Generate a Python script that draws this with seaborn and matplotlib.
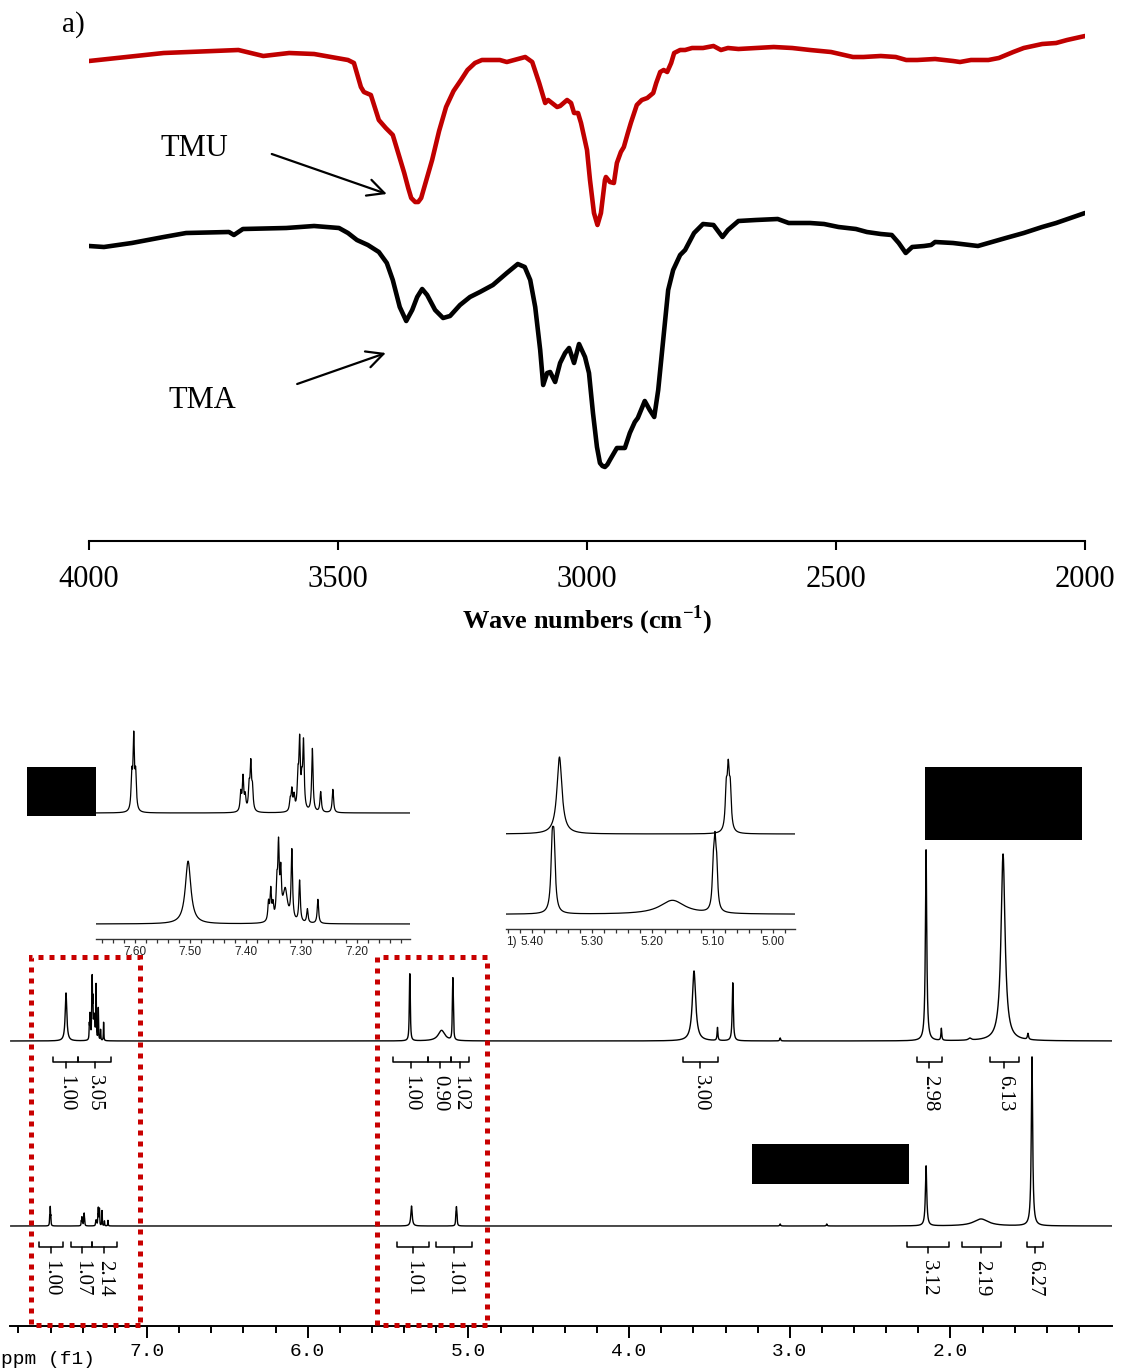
import numpy as np
import matplotlib
matplotlib.use("Agg")
import matplotlib.pyplot as plt
from matplotlib.patches import Rectangle
from matplotlib.ticker import MultipleLocator, FormatStrFormatter, FixedLocator
import seaborn as sns

# ---------------------------------------------------------------- FTIR spectra
ir_wn_tmu = [4000, 3850, 3700, 3650, 3598, 3548, 3480, 3468, 3454, 3448, 3434, 3418, 3404, 3390,
             3367, 3359, 3353, 3345, 3339, 3333, 3311, 3297, 3283, 3268, 3253, 3240, 3225, 3211,
             3175, 3161, 3124, 3110, 3096,
             3084, 3078, 3060, 3054, 3040, 3032, 3026, 3018, 3012, 3000, 2994, 2986, 2979, 2972,
             2964, 2962, 2954, 2946, 2940, 2932, 2926, 2918, 2912, 2900, 2890, 2879, 2867, 2861,
             2853, 2846, 2839, 2831, 2825, 2813, 2803, 2789, 2767, 2746, 2731, 2717, 2696, 2625,
             2588, 2552, 2510, 2466, 2445, 2410, 2380, 2359, 2337, 2301, 2265, 2251, 2229, 2194,
             2173, 2144, 2123, 2086, 2058, 2036, 2000]
ir_t_tmu = [96.0, 97.6, 98.2, 97.0, 97.6, 97.4, 96.2, 95.6, 90.8, 89.8, 89.2, 84.2, 82.6, 81.2,
            73.6, 70.6, 68.6, 67.8, 67.8, 68.6, 76.2, 82.0, 86.8, 90.0, 92.2, 94.2, 95.6, 96.2,
            96.2, 95.8, 96.8, 95.8, 91.6,
            87.6, 88.2, 86.8, 87.0, 88.2, 87.6, 85.6, 85.6, 83.6, 78.2, 72.2, 65.6, 63.2, 65.6,
            72.2, 72.8, 71.8, 71.6, 75.6, 77.8, 78.8, 81.6, 83.6, 87.2, 88.2, 88.6, 89.6, 91.6,
            93.8, 94.2, 93.8, 95.6, 97.6, 98.2, 98.2, 98.6, 98.6, 99.0, 98.2, 98.6, 98.4, 98.8,
            98.6, 98.2, 97.8, 96.8, 96.8, 97.0, 96.8, 96.2, 96.2, 96.4, 96.0, 95.8, 96.2, 96.2,
            96.6, 97.8, 98.6, 99.4, 99.6, 100.2, 101.0]

ir_wn_tma = [4000, 3970, 3914, 3850, 3805, 3719, 3709, 3691, 3604, 3548, 3498, 3480, 3462, 3440,
             3418, 3402,
             3390, 3376, 3363, 3351, 3341, 3331, 3321, 3305, 3289, 3275, 3255, 3235, 3215, 3189,
             3161, 3139, 3125, 3114, 3104, 3094, 3088, 3080, 3074, 3064, 3054, 3044, 3036, 3026,
             3016, 3004, 2996, 2988, 2980, 2974, 2969, 2964, 2959, 2954, 2940, 2924, 2914, 2904,
             2898, 2884,
             2874, 2865, 2857, 2847, 2837, 2827, 2813, 2803, 2785, 2767, 2746, 2728, 2717, 2696,
             2661, 2617, 2595, 2552, 2524, 2495, 2460, 2438, 2410, 2388, 2374, 2360, 2347, 2323,
             2309, 2301, 2265, 2215, 2159, 2123, 2086, 2058, 2000]
ir_t_tma = [59.0, 58.8, 59.6, 60.8, 61.6, 61.8, 61.2, 62.4, 62.6, 63.0, 62.6, 61.6, 60.2, 59.2,
            57.8, 55.6,
            52.2, 46.8, 44.0, 46.2, 48.8, 50.4, 49.2, 46.2, 44.6, 45.0, 47.2, 48.8, 49.8, 51.2,
            53.6, 55.4, 54.8, 52.2, 46.8, 38.2, 31.2, 33.6, 33.8, 31.8, 35.6, 37.6, 38.6, 35.6,
            39.4, 36.8, 33.6, 25.6, 18.8, 15.6, 15.0, 14.8, 15.3, 16.2, 18.6, 18.6, 21.6, 23.8,
            24.6, 28.0,
            26.2, 24.8, 30.2, 40.2, 50.2, 54.2, 57.2, 58.2, 61.6, 63.4, 63.2, 60.8, 62.2, 64.0,
            64.2, 64.4, 63.6, 63.6, 63.4, 62.8, 62.4, 61.8, 61.4, 61.2, 59.6, 57.6, 58.8, 59.0,
            59.2, 59.8, 59.6, 59.0, 60.6, 61.6, 62.8, 63.6, 65.6]

ir_ticks = [4000, 3500, 3000, 2500, 2000]

# ---------------------------------------------------------------- 1H NMR peak tables
# upper trace
a_ppm = [7.504, 7.359, 7.355, 7.351, 7.344, 7.341, 7.337, 7.329, 7.317, 7.303, 7.289, 7.270,
         5.366, 5.363, 5.167, 5.0993, 5.0965, 5.0937,
         3.596, 3.450, 3.355, 3.060, 2.152, 2.057, 1.880, 1.673, 1.518]
a_height = [48.0, 14.1, 23.3, 11.3, 24.7, 53.0, 31.8, 24.7, 53.0, 31.8, 10.6, 18.4,
            45.6, 45.6, 10.6, 28.6, 42.9, 28.6,
            70, 13, 58, 3, 191, 12, 2, 187, 6]
a_fwhm = [0.012, 0.003, 0.003, 0.003, 0.003, 0.003, 0.003, 0.010, 0.003, 0.003, 0.003, 0.003,
          0.005, 0.005, 0.050, 0.004, 0.004, 0.004,
          0.025, 0.006, 0.008, 0.006, 0.010, 0.006, 0.020, 0.030, 0.008]

# lower trace
b_ppm = [7.6055, 7.602, 7.5985, 7.409, 7.405, 7.401, 7.394, 7.391, 7.388,
         7.320, 7.317, 7.313, 7.306, 7.303, 7.299, 7.296, 7.280, 7.265, 7.243,
         5.354, 5.0778, 5.0745, 5.0712,
         3.060, 2.770, 2.152, 1.810, 1.493]
b_height = [8.1, 17.2, 8.1, 4.4, 8.1, 3.4, 5.4, 10.8, 4.9,
            2.5, 4.9, 3.4, 7.4, 15.9, 5.4, 15.9, 15.2, 4.9, 5.6,
            20.0, 9.9, 14.1, 9.9,
            2, 2, 60, 7, 169]
b_fwhm = [0.003] * 19 + [0.010, 0.004, 0.004, 0.004, 0.006, 0.006, 0.010, 0.110, 0.010]

# integral regions (ppm from, ppm to, value)
a_int_from = [7.585, 7.429, 5.469, 5.251, 5.108, 3.667, 2.210, 1.754]
a_int_to = [7.429, 7.224, 5.251, 5.108, 4.996, 3.449, 2.055, 1.574]
a_int_val = ["1.00", "3.05", "1.00", "0.90", "1.02", "3.00", "2.98", "6.13"]

b_int_from = [7.672, 7.473, 7.342, 5.446, 5.202, 2.271, 1.930, 1.526]
b_int_to = [7.523, 7.342, 7.187, 5.245, 4.978, 2.009, 1.688, 1.424]
b_int_val = ["1.00", "1.07", "2.14", "1.01", "1.01", "3.12", "2.19", "6.27"]

# regions shown enlarged
zoom_from = [7.722, 5.571]
zoom_to = [7.044, 4.886]

# ---------------------------------------------------------------- style
sns.set_theme(style="white")
plt.rcParams["font.family"] = ["Liberation Serif", "DejaVu Serif"]
plt.rcParams["mathtext.fontset"] = "custom"
plt.rcParams["mathtext.rm"] = "Liberation Serif"
plt.rcParams["mathtext.bf"] = "Liberation Serif:bold"
for key in ["text.color", "axes.labelcolor", "xtick.color", "ytick.color", "axes.edgecolor"]:
    plt.rcParams[key] = "black"

RED = "#c00000"
DOT_RED = "#c80000"
W, H = 1121, 1372


def frame(l, t, r, b):
    return [l / W, 1 - b / H, (r - l) / W, (b - t) / H]


def lorentz(x, centers, heights, widths):
    s = np.zeros_like(x)
    for c, h, w in zip(centers, heights, widths):
        s += h / (1.0 + ((x - c) / (w / 2.0)) ** 2)
    return s


def only_bottom(ax, lw):
    for side in ["left", "right", "top"]:
        ax.spines[side].set_visible(False)
    ax.spines["bottom"].set_linewidth(lw)
    ax.spines["bottom"].set_color("black")
    ax.set_yticks([])
    ax.patch.set_alpha(0)


fig = plt.figure(figsize=(W / 100, H / 100), dpi=100)

# ---------------------------------------------------------------- a) FTIR
ax_ir = fig.add_axes(frame(89, 20, 1085, 541))
sns.lineplot(x=ir_wn_tmu, y=ir_t_tmu, ax=ax_ir, color=RED, linewidth=3.3,
             sort=False, estimator=None, solid_joinstyle="round", solid_capstyle="round")
sns.lineplot(x=ir_wn_tma, y=ir_t_tma, ax=ax_ir, color="black", linewidth=3.3,
             sort=False, estimator=None, solid_joinstyle="round", solid_capstyle="round")
ax_ir.set_xlim(4000, 2000)
ax_ir.set_ylim(0, 104.2)
ax_ir.set_xticks(ir_ticks)
ax_ir.set_xticklabels([str(t) for t in ir_ticks])
only_bottom(ax_ir, 1.5)
ax_ir.tick_params(axis="x", bottom=True, direction="out", length=6.5, width=1.5,
                  labelsize=22, pad=10.5)
ax_ir.set_ylabel("")
ax_ir.set_xlabel("Wave numbers (cm$^{\\mathbf{-1}}$)", fontsize=19, fontweight="bold")
ax_ir.xaxis.set_label_coords(0.5, -0.1516)
ax_ir.xaxis.label.set_verticalalignment("center")

ax_ir.text(3857, 78.6, "TMU", fontsize=22, ha="left", va="center")
ax_ir.text(3841, 28.0, "TMA", fontsize=22, ha="left", va="center")
arrow = dict(arrowstyle="->", lw=1.6, color="black", mutation_scale=30, shrinkA=0, shrinkB=0)
ax_ir.annotate("", xy=(3402, 69.4), xytext=(3633, 77.4), arrowprops=arrow)
ax_ir.annotate("", xy=(3404, 37.6), xytext=(3582, 31.4), arrowprops=arrow)
fig.text(62 / W, 1 - 25 / H, "a)", fontsize=21, ha="left", va="center")

# ---------------------------------------------------------------- 1H NMR, full range
A_BASE, B_BASE = 285, 100
ax_nmr = fig.add_axes(frame(10.4, 700, 1112, 1326))
ppm = np.linspace(7.85, 0.995, 32000)
spec_a = lorentz(ppm, a_ppm, a_height, a_fwhm)
spec_b = lorentz(ppm, b_ppm, b_height, b_fwhm)
sns.lineplot(x=ppm, y=A_BASE + spec_a, ax=ax_nmr, color="black", linewidth=1.0,
             sort=False, estimator=None)
sns.lineplot(x=ppm, y=B_BASE + spec_b, ax=ax_nmr, color="black", linewidth=1.0,
             sort=False, estimator=None)
ax_nmr.set_xlim(7.85, 0.995)
ax_nmr.set_ylim(0, 626)
only_bottom(ax_nmr, 1.4)
ax_nmr.xaxis.set_major_locator(FixedLocator([7.0, 6.0, 5.0, 4.0, 3.0, 2.0]))
ax_nmr.xaxis.set_minor_locator(FixedLocator(np.round(np.arange(1.2, 7.81, 0.2), 1)))
ax_nmr.xaxis.set_major_formatter(FormatStrFormatter("%.1f"))
ax_nmr.tick_params(axis="x", which="major", bottom=True, direction="out", length=8.6,
                   width=1.4, pad=4, labelsize=14, labelfontfamily="Liberation Mono")
ax_nmr.tick_params(axis="x", which="minor", bottom=True, direction="out", length=5,
                   width=1.4)
ax_nmr.set_xlabel("")
ax_nmr.set_ylabel("")
fig.text(1 / W, 1 - 1360 / H, "ppm (f1)", ha="left", va="center", fontsize=14,
         family="Liberation Mono")


def integrals(ax, starts, ends, values, y_line):
    for s, e, v in zip(starts, ends, values):
        mid = (s + e) / 2
        ax.plot([s, s, e, e], [y_line + 5, y_line, y_line, y_line + 5], color="black", lw=1.1)
        ax.plot([mid, mid], [y_line, y_line - 6], color="black", lw=1.1)
        ax.text(mid, y_line - 13, v, rotation=270, ha="center", va="top", fontsize=15)


integrals(ax_nmr, a_int_from, a_int_to, a_int_val, 264)
integrals(ax_nmr, b_int_from, b_int_to, b_int_val, 79)

# label masks
for x0, y0, w, h in [(7.317, 510, 0.43, 49), (1.182, 486, 0.977, 73), (2.258, 142, 0.977, 40)]:
    ax_nmr.add_patch(Rectangle((x0, y0), w, h, facecolor="black", edgecolor="none",
                               clip_on=False, zorder=6))

# ---------------------------------------------------------------- expansions
def expansion(rect, lo, hi, a_off, a_scale, b_off, b_scale, ymax):
    ax = fig.add_axes(frame(*rect))
    x = np.linspace(hi, lo, 6000)
    sa = lorentz(x, a_ppm, a_height, a_fwhm)
    sb = lorentz(x, b_ppm, b_height, b_fwhm)
    sns.lineplot(x=x, y=a_off + a_scale * sa / sa.max(), ax=ax, color="black",
                 linewidth=0.9, sort=False, estimator=None)
    sns.lineplot(x=x, y=b_off + b_scale * sb / sb.max(), ax=ax, color="black",
                 linewidth=0.9, sort=False, estimator=None)
    ax.set_xlim(hi, lo)
    ax.set_ylim(0, ymax)
    only_bottom(ax, 1.0)
    ax.spines["bottom"].set_color("#333333")
    ax.xaxis.set_major_locator(MultipleLocator(0.1))
    ax.xaxis.set_minor_locator(MultipleLocator(0.02))
    ax.xaxis.set_major_formatter(FormatStrFormatter("%.2f"))
    ax.tick_params(axis="x", which="both", bottom=True, direction="out", length=3,
                   width=0.9, colors="#333333", labelcolor="#222222")
    ax.tick_params(axis="x", which="major", labelsize=8.5, pad=2,
                   labelfontfamily="Liberation Sans")
    ax.set_xlabel("")
    ax.set_ylabel("")
    return ax


ax_ar = expansion((96, 725, 410, 939), 7.104, 7.670, 15, 87, 126, 82, 214)
ax_ol = expansion((506, 740, 795, 929), 4.964, 5.4425, 14.7, 88, 95, 77, 189)
ax_ol.text(5.434, -0.069, "1)", transform=ax_ol.get_xaxis_transform(), ha="center",
           va="center", fontsize=8.5, family="Liberation Sans", color="#222222")

# dotted frames around the expanded regions
for left, right in zip(zoom_from, zoom_to):
    fig.add_artist(Rectangle((right, 1), left - right, 368, transform=ax_nmr.transData,
                             fill=False, edgecolor=DOT_RED, linewidth=3.6,
                             linestyle=(0, (1, 1.2)), zorder=10))

fig.savefig("out.png", dpi=100, facecolor="white")
